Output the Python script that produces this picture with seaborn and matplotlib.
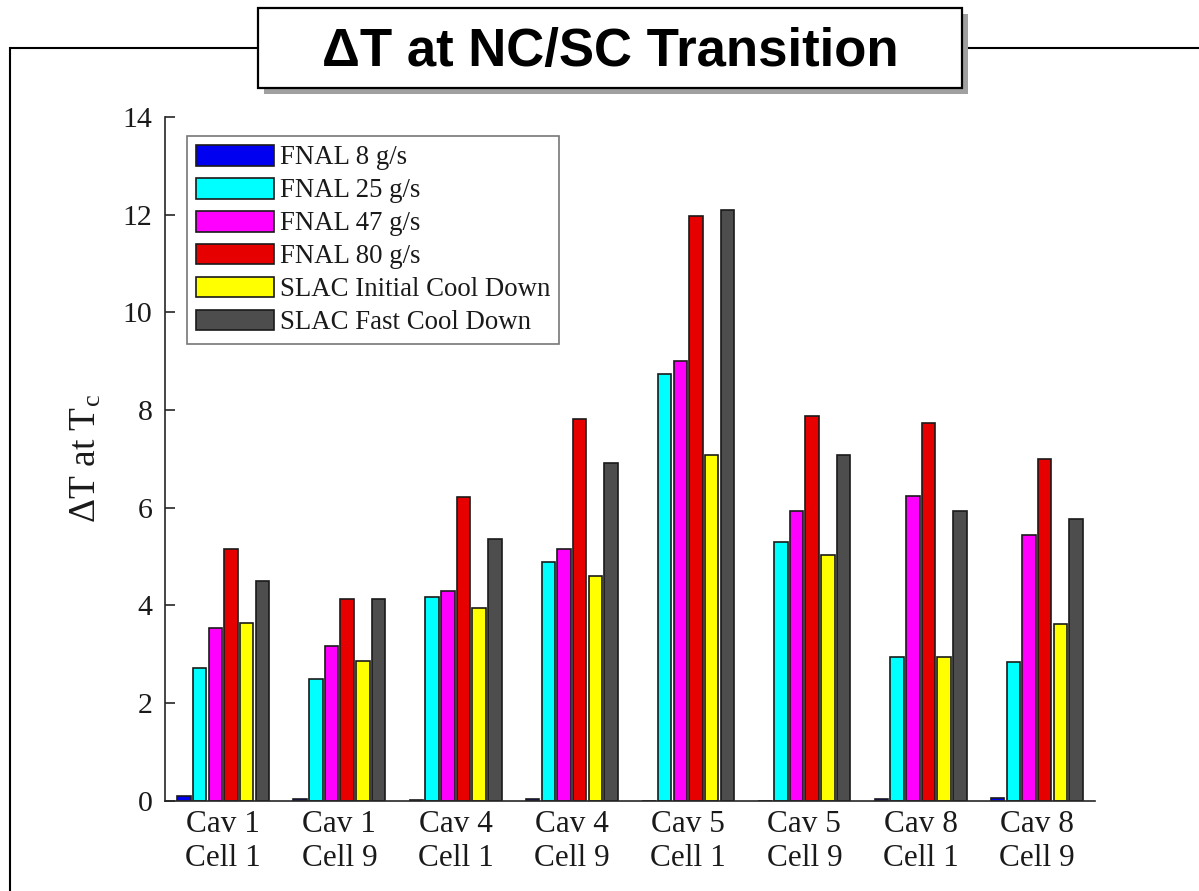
import matplotlib
matplotlib.use("Agg")
import matplotlib.pyplot as plt
import matplotlib.patches as mpatches
import numpy as np
import pandas as pd
import seaborn as sns

categories = ["Cav 1\nCell 1", "Cav 1\nCell 9", "Cav 4\nCell 1", "Cav 4\nCell 9",
              "Cav 5\nCell 1", "Cav 5\nCell 9", "Cav 8\nCell 1", "Cav 8\nCell 9"]
series = ["FNAL 8 g/s", "FNAL 25 g/s", "FNAL 47 g/s", "FNAL 80 g/s",
          "SLAC Initial Cool Down", "SLAC Fast Cool Down"]
fnal_8 = [0.09, 0.04, 0.01, 0.03, 0.0, 0.0, 0.03, 0.06]
fnal_25 = [2.71, 2.49, 4.18, 4.89, 8.74, 5.29, 2.94, 2.83]
fnal_47 = [3.54, 3.16, 4.29, 5.15, 9.01, 5.93, 6.24, 5.45]
fnal_80 = [5.16, 4.14, 6.21, 7.82, 11.98, 7.87, 7.73, 7.00]
slac_initial = [3.63, 2.87, 3.95, 4.61, 7.08, 5.03, 2.94, 3.61]
slac_fast = [4.50, 4.14, 5.35, 6.91, 12.10, 7.07, 5.93, 5.77]
colors = ["#0000f0", "#00ffff", "#ff00ff", "#e60000", "#ffff00", "#4d4d4d"]
yticks = [0, 2, 4, 6, 8, 10, 12, 14]

values = [fnal_8, fnal_25, fnal_47, fnal_80, slac_initial, slac_fast]
rows = []
for s, vals in zip(series, values):
    for c, v in zip(categories, vals):
        rows.append({"cat": c, "series": s, "value": v})
df = pd.DataFrame(rows)

sns.set_theme(style="white")
plt.rcParams["font.family"] = ["Liberation Serif", "DejaVu Serif"]
plt.rcParams["mathtext.fontset"] = "custom"
plt.rcParams["mathtext.rm"] = "Liberation Serif"
plt.rcParams["mathtext.it"] = "Liberation Serif:italic"
plt.rcParams["text.color"] = "#1a1a1a"
plt.rcParams["axes.labelcolor"] = "#1a1a1a"
plt.rcParams["xtick.color"] = "#1a1a1a"
plt.rcParams["ytick.color"] = "#1a1a1a"

W, H = 1199, 891
fig = plt.figure(figsize=(W / 100, H / 100), dpi=100)
fig.patch.set_facecolor("white")

# outer frame (top edge partly hidden by title box)
frame = mpatches.Rectangle((10 / W, -0.1), 1.2, (891 - 48) / H + 0.1, transform=fig.transFigure,
                           fill=False, edgecolor="black", linewidth=1.5, zorder=0)
fig.patches.append(frame)

ax = fig.add_axes([165 / W, 1 - 800.7 / H, (1095 - 165) / W, (800.7 - 117) / H])
sns.barplot(data=df, x="cat", y="value", hue="series", order=categories, hue_order=series,
            palette=colors, width=0.81, gap=0.14, edgecolor="#1a1a1a", linewidth=1.2,
            saturation=1, errorbar=None, ax=ax)

ax.set_xlim(-0.5, 7.5)
ax.set_ylim(0, 14)
ax.set_yticks(yticks)
ax.set_yticklabels([str(t) for t in yticks])
for side in ["top", "right"]:
    ax.spines[side].set_visible(False)
for side in ["left", "bottom"]:
    ax.spines[side].set_color("#262626")
    ax.spines[side].set_linewidth(1.2)
ax.tick_params(axis="y", direction="in", length=7, width=1.2, color="#262626",
               labelsize=21.5, pad=9, left=True)
ax.tick_params(axis="x", length=0, labelsize=22.5, pad=7)
for lbl in ax.get_xticklabels():
    lbl.set_linespacing(1.22)
ax.set_xlabel("")
ax.set_ylabel(r"ΔT at T$_{\mathregular{c}}$", fontsize=27, labelpad=14)

handles, labels = ax.get_legend_handles_labels()
leg = ax.legend(handles, labels, loc="upper left", bbox_to_anchor=(0.024, 0.972),
                fontsize=19.3, frameon=True, fancybox=False, edgecolor="#555555",
                handlelength=2.9, handleheight=0.82, handletextpad=0.25,
                labelspacing=0.27, borderpad=0.32, borderaxespad=0)
leg.get_frame().set_linewidth(1.2)

# title box
tx0, ty0, tx1, ty1 = 258, 8, 962, 88
shadow = mpatches.Rectangle(((tx0 + 6) / W, 1 - (ty1 + 6) / H), (tx1 - tx0) / W, (ty1 - ty0) / H,
                            transform=fig.transFigure, facecolor="#a0a0a0", edgecolor="none",
                            zorder=5)
box = mpatches.Rectangle((tx0 / W, 1 - ty1 / H), (tx1 - tx0) / W, (ty1 - ty0) / H,
                         transform=fig.transFigure, facecolor="white", edgecolor="black",
                         linewidth=1.6, zorder=6)
fig.patches.append(shadow)
fig.patches.append(box)
fig.text((tx0 + tx1) / 2 / W, 1 - 52 / H, "ΔT at NC/SC Transition",
         family=["Liberation Sans", "DejaVu Sans"], weight="bold", fontsize=38,
         color="black", ha="center", va="center", zorder=7)

fig.savefig("out.png", dpi=100, facecolor="white")
